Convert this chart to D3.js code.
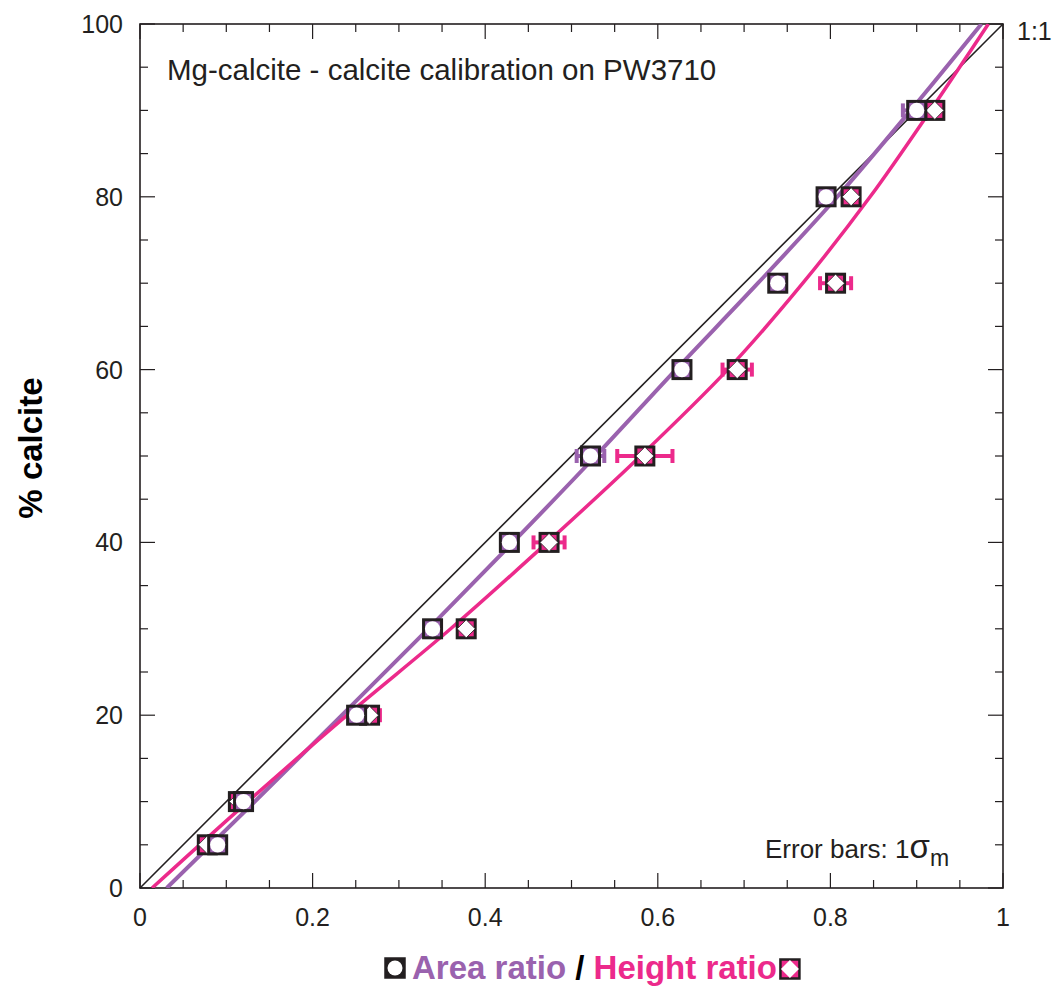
<!DOCTYPE html>
<html><head><meta charset="utf-8">
<script src="https://cdn.jsdelivr.net/npm/d3@7"></script>
<style>body{margin:0;background:#fff;} svg text{font-family:"Liberation Sans",Arial,sans-serif;}</style>
</head><body>
<svg id="c" width="1059" height="991"></svg>
<script>
// ---- data ----
const calcite = [5, 10, 20, 30, 40, 50, 60, 70, 80, 90];
const areaRatio = [0.090, 0.120, 0.251, 0.339, 0.428, 0.522, 0.628, 0.739, 0.795, 0.900];
const areaErr   = [0.006, 0.006, 0.006, 0.006, 0.008, 0.016, 0.008, 0.008, 0.008, 0.016];
const heightRatio = [0.078, 0.114, 0.266, 0.378, 0.474, 0.585, 0.692, 0.806, 0.824, 0.921];
const heightErr   = [0.006, 0.006, 0.012, 0.008, 0.018, 0.032, 0.017, 0.018, 0.008, 0.008];
const fitY = [0, 10, 20, 30, 40, 50, 60, 70, 80, 90, 100];
const areaFitX   = [0.031, 0.133, 0.234, 0.334, 0.432, 0.528, 0.621, 0.716, 0.808, 0.893, 0.975];
const heightFitX = [0.014, 0.125, 0.240, 0.360, 0.472, 0.580, 0.681, 0.768, 0.846, 0.916, 0.983];
const xTicks = [0, 0.2, 0.4, 0.6, 0.8, 1];
const xTickLabels = ["0", "0.2", "0.4", "0.6", "0.8", "1"];
const yTicks = [0, 20, 40, 60, 80, 100];

const PURPLE = "#9a62ae", PINK = "#ec2a8b", DARK = "#231f20";
const svg = d3.select("#c");
const L = 140, R = 1003, T = 24, B = 888;
const x = d3.scaleLinear().domain([0, 1]).range([L, R]);
const y = d3.scaleLinear().domain([0, 100]).range([B, T]);

// ticks (inward on all sides)
const g = svg.append("g");
const xMinor = d3.range(0, 1.0001, 0.05);
const yMinor = d3.range(0, 100.001, 5);
const isMajX = v => Math.abs(v*5 - Math.round(v*5)) < 1e-6;
const isMajY = v => Math.abs(v/20 - Math.round(v/20)) < 1e-6;
xMinor.forEach(v => {
  const len = isMajX(v) ? 15 : 8;
  g.append("line").attr("x1", x(v)).attr("x2", x(v)).attr("y1", B).attr("y2", B - len).attr("stroke", DARK).attr("stroke-width", 1.2);
  g.append("line").attr("x1", x(v)).attr("x2", x(v)).attr("y1", T).attr("y2", T + len).attr("stroke", DARK).attr("stroke-width", 1.2);
});
yMinor.forEach(v => {
  const len = isMajY(v) ? 15 : 8;
  g.append("line").attr("y1", y(v)).attr("y2", y(v)).attr("x1", L).attr("x2", L + len).attr("stroke", DARK).attr("stroke-width", 1.2);
  g.append("line").attr("y1", y(v)).attr("y2", y(v)).attr("x1", R).attr("x2", R - len).attr("stroke", DARK).attr("stroke-width", 1.2);
});
svg.append("rect").attr("x", L).attr("y", T).attr("width", R - L).attr("height", B - T)
  .attr("fill", "none").attr("stroke", DARK).attr("stroke-width", 1.6);

// tick labels
xTicks.forEach((v, i) => svg.append("text").attr("x", x(v)).attr("y", B + 38).attr("text-anchor", "middle")
  .attr("font-size", 25).attr("fill", DARK).text(xTickLabels[i]));
yTicks.forEach(v => svg.append("text").attr("x", L - 17).attr("y", y(v) + 9).attr("text-anchor", "end")
  .attr("font-size", 25).attr("fill", DARK).text(v));

// y label
svg.append("text").attr("transform", `translate(42,${448}) rotate(-90)`).attr("text-anchor", "middle")
  .attr("font-size", 33).attr("font-weight", "bold").attr("fill", "#000").text("% calcite");

// 1:1 line
svg.append("line").attr("x1", x(0)).attr("y1", y(0)).attr("x2", x(1)).attr("y2", y(100))
  .attr("stroke", DARK).attr("stroke-width", 1.6);
svg.append("text").attr("x", 1017).attr("y", 40).attr("font-size", 25).attr("fill", DARK).text("1:1");

// fit curves
const lineGen = d3.line().curve(d3.curveMonotoneY);
const clipId = "pc";
svg.append("clipPath").attr("id", clipId).append("rect").attr("x", L).attr("y", T).attr("width", R - L).attr("height", B - T);
svg.append("path").attr("clip-path", `url(#${clipId})`)
  .attr("d", lineGen(fitY.map((v, i) => [x(areaFitX[i]), y(v)])))
  .attr("fill", "none").attr("stroke", PURPLE).attr("stroke-width", 4);
svg.append("path").attr("clip-path", `url(#${clipId})`)
  .attr("d", lineGen(fitY.map((v, i) => [x(heightFitX[i]), y(v)])))
  .attr("fill", "none").attr("stroke", PINK).attr("stroke-width", 3.5);

// error bars
function errBar(cx, cy, ex, col) {
  const x0 = x(cx - ex), x1 = x(cx + ex), py = y(cy);
  svg.append("line").attr("x1", x0).attr("x2", x1).attr("y1", py).attr("y2", py).attr("stroke", col).attr("stroke-width", 4);
  [x0, x1].forEach(xx => svg.append("line").attr("x1", xx).attr("x2", xx).attr("y1", py - 7).attr("y2", py + 7)
    .attr("stroke", col).attr("stroke-width", 4));
}
calcite.forEach((c, i) => errBar(heightRatio[i], c, heightErr[i], PINK));
calcite.forEach((c, i) => errBar(areaRatio[i], c, areaErr[i], PURPLE));

// markers
const S = 18;
function markerArea(sel, cx, cy) {
  sel.append("rect").attr("x", cx - S/2).attr("y", cy - S/2).attr("width", S).attr("height", S)
    .attr("fill", PURPLE).attr("stroke", DARK).attr("stroke-width", 3);
  sel.append("circle").attr("cx", cx).attr("cy", cy).attr("r", 7.6).attr("fill", "#fff");
}
function markerHeight(sel, cx, cy) {
  sel.append("rect").attr("x", cx - S/2).attr("y", cy - S/2).attr("width", S).attr("height", S)
    .attr("fill", PINK).attr("stroke", DARK).attr("stroke-width", 3);
  const h = 9;
  sel.append("path").attr("d", `M${cx},${cy - h}L${cx + h},${cy}L${cx},${cy + h}L${cx - h},${cy}Z`)
    .attr("fill", "#fff").attr("stroke", DARK).attr("stroke-width", 0.8);
}
calcite.forEach((c, i) => markerHeight(svg, x(heightRatio[i]), y(c)));
calcite.forEach((c, i) => markerArea(svg, x(areaRatio[i]), y(c)));

// annotations
svg.append("text").attr("x", 167).attr("y", 80).attr("font-size", 29.5).attr("fill", DARK)
  .text("Mg-calcite - calcite calibration on PW3710");
const eb = svg.append("text").attr("x", 765).attr("y", 858).attr("font-size", 26).attr("fill", DARK);
eb.append("tspan").text("Error bars: 1");
eb.append("tspan").attr("font-size", 33).text("σ");
eb.append("tspan").attr("font-size", 23).attr("dy", 8).text("m");

// legend
const lg = svg.append("text").attr("x", 412).attr("y", 979).attr("font-size", 33).attr("font-weight", "bold");
lg.append("tspan").attr("fill", PURPLE).text("Area ratio ");
lg.append("tspan").attr("fill", "#000").text("/ ");
lg.append("tspan").attr("fill", PINK).text("Height ratio");
const lgBox = lg.node().getBBox();
const lm = svg.append("g");
function legendMarker(cx, cy, fill, shape) {
  lm.append("rect").attr("x", cx - 9.5).attr("y", cy - 9.5).attr("width", 19).attr("height", 19)
    .attr("fill", fill).attr("stroke", DARK).attr("stroke-width", 2.5);
  if (shape === "c") lm.append("circle").attr("cx", cx).attr("cy", cy).attr("r", 7.5).attr("fill", "#fff");
  else { const h = 9; lm.append("path").attr("d", `M${cx},${cy - h}L${cx + h},${cy}L${cx},${cy + h}L${cx - h},${cy}Z`).attr("fill", "#fff"); }
}
legendMarker(395, 968, DARK, "c");
legendMarker(lgBox.x + lgBox.width + 13, 969, PINK, "d");
</script>
</body></html>
